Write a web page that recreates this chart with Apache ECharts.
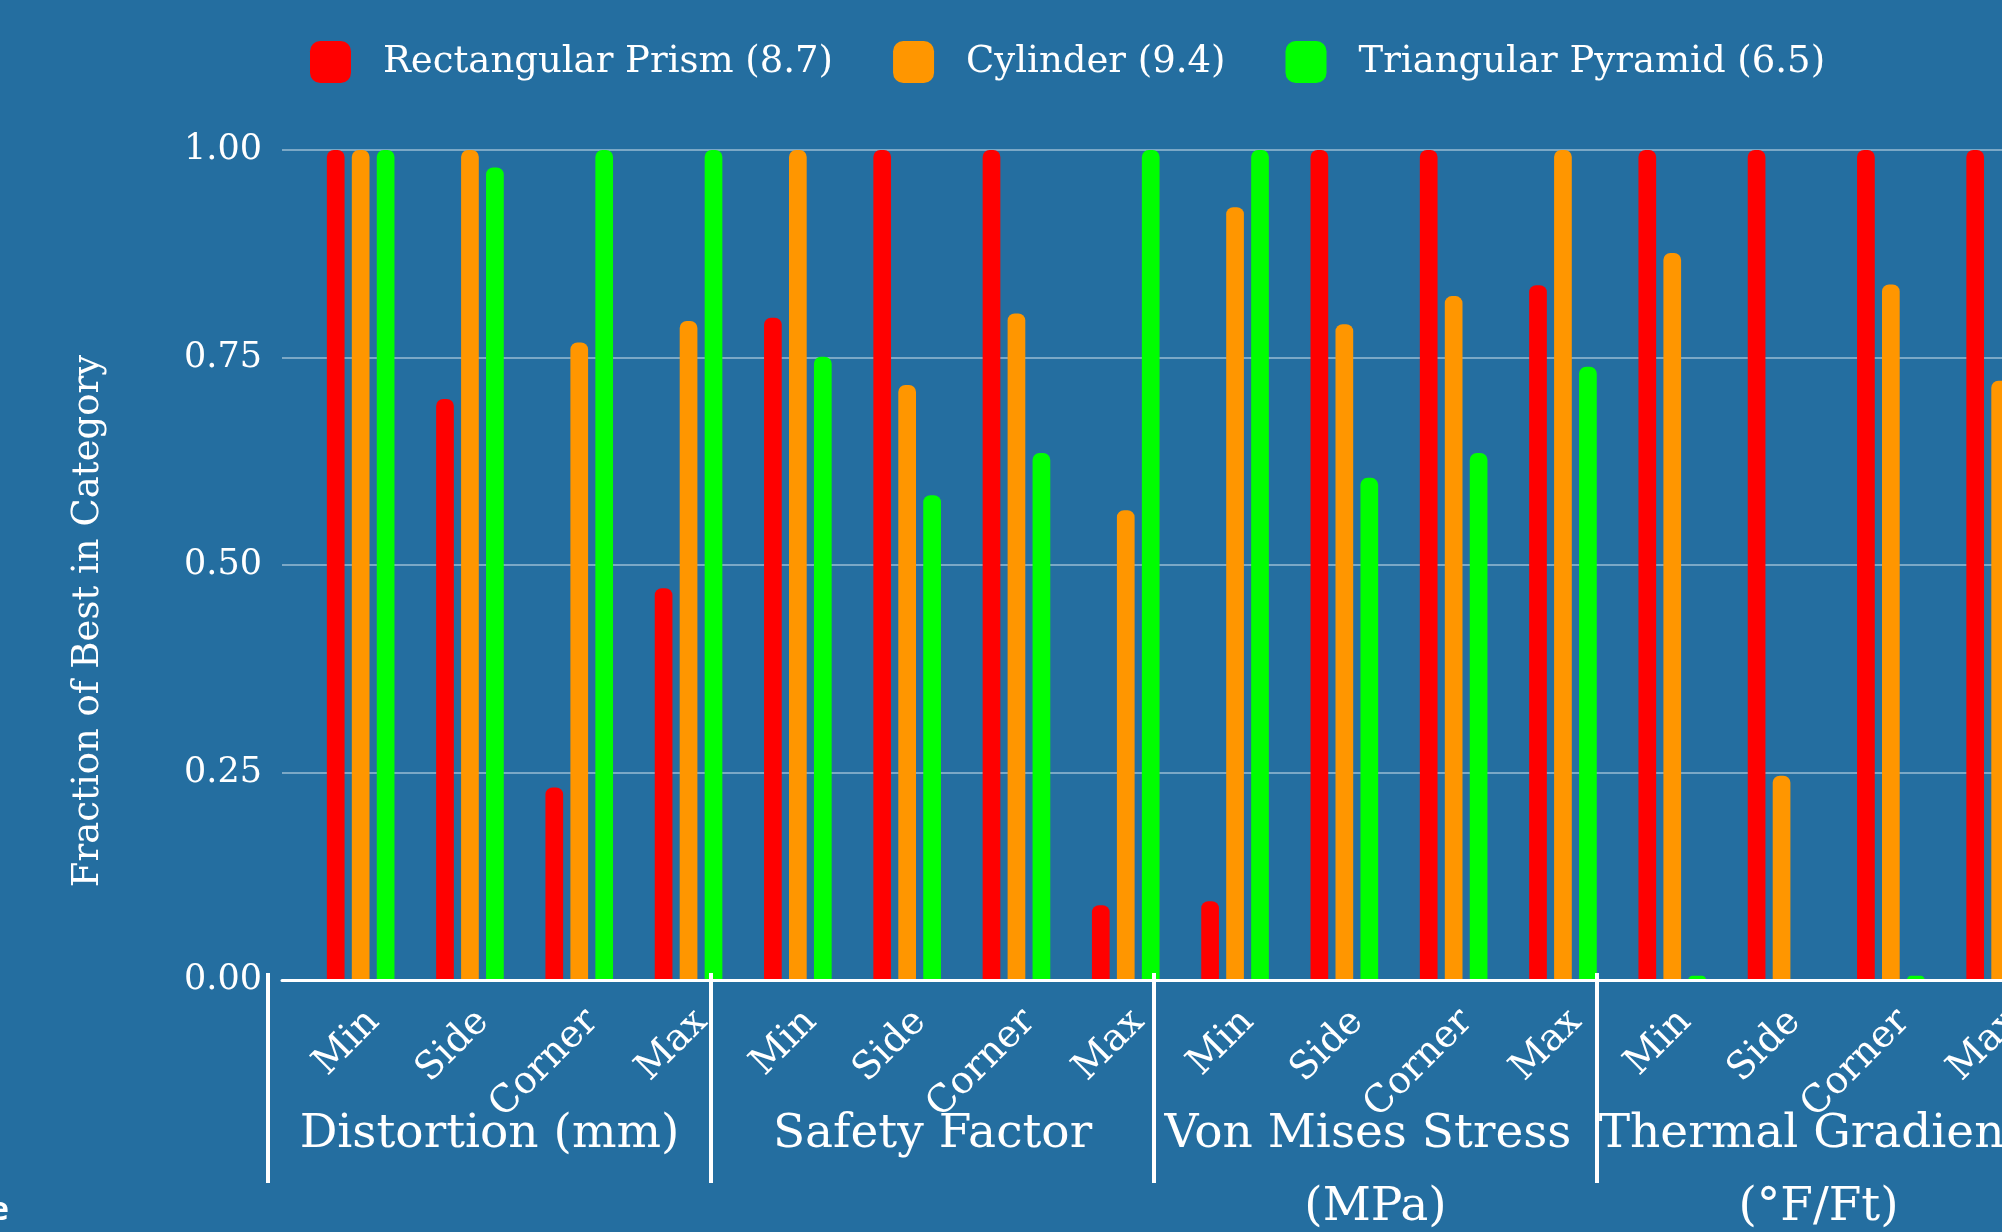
<!DOCTYPE html>
<html><head><meta charset="utf-8">
<script src="https://cdn.jsdelivr.net/npm/echarts@6/dist/echarts.min.js"></script>
<style>html,body{margin:0;padding:0;background:#246EA0;overflow:hidden;width:2002px;height:1232px}#c{width:2400px;height:1232px}</style>
</head><body><div id="c"></div>
<script>
const groups = ['Distortion (mm)', 'Safety Factor', 'Von Mises Stress (MPa)', 'Thermal Gradient (°F/Ft)'];
const positions = ['Min', 'Side', 'Corner', 'Max'];
const seriesNames = ['Rectangular Prism (8.7)', 'Cylinder (9.4)', 'Triangular Pyramid (6.5)'];
const seriesColors = ['#FF0000', '#FF9600', '#00FF00'];
const rectangularPrism = [1.00, 0.700, 0.232, 0.472, 0.798, 1.00, 1.00, 0.090, 0.095, 1.00, 1.00, 0.837, 1.00, 1.00, 1.00, 1.00];
const cylinder = [1.00, 1.00, 0.768, 0.794, 1.00, 0.717, 0.803, 0.566, 0.931, 0.790, 0.824, 1.00, 0.876, 0.246, 0.838, 0.722];
const triangularPyramid = [1.00, 0.979, 1.00, 1.00, 0.751, 0.584, 0.635, 1.00, 1.00, 0.605, 0.635, 0.739, 0.005, 0, 0.005, 0.005];
const yTicks = [0, 0.25, 0.5, 0.75, 1];
const yAxisTitle = 'Fraction of Best in Category';

const categories = groups.flatMap(g => positions.map(p => g + '|' + p));
const FONT = 'DejaVu Serif';
const chart = echarts.init(document.getElementById('c'), null, {renderer: 'canvas'});
const yMin = yTicks[0], yMax = yTicks[yTicks.length - 1], yStep = yTicks[1] - yTicks[0];

const option = {
  animation: false,
  backgroundColor: '#246EA0',
  textStyle: {fontFamily: FONT},
  legend: {
    data: seriesNames, left: 305, top: 36, itemWidth: 41, itemHeight: 42, itemGap: 60,
    icon: 'roundRect', selectedMode: false,
    textStyle: {color: '#fff', fontSize: 37, fontFamily: FONT, padding: [0, 0, 0, 27]}
  },
  grid: [
    {left: 282, top: 150, width: 1900, bottom: 252, outerBoundsMode: 'none'},
    {left: 306, top: 150, width: 1748.8, bottom: 252, outerBoundsMode: 'none'},
    {left: 268, top: 900, width: 1772, bottom: 259, outerBoundsMode: 'none'},
    {left: 319, top: 150, width: 1748.8, bottom: 252, outerBoundsMode: 'none'}
  ],
  xAxis: [
    {gridIndex: 0, type: 'value', min: 0, max: 1,
     axisLine: {show: true, onZero: false, lineStyle: {color: '#fff', width: 3}},
     axisTick: {show: false}, axisLabel: {show: false}, splitLine: {show: false}, z: 6},
    {gridIndex: 1, type: 'category', data: categories, show: false},
    {gridIndex: 2, type: 'category', data: groups, position: 'bottom',
     axisLine: {show: false},
     axisTick: {show: true, interval: 0, length: 210, lineStyle: {color: '#fff', width: 4}},
     axisLabel: {interval: 0, margin: 125, color: '#fff', fontSize: 47, lineHeight: 73, width: 440,
                 overflow: 'break', fontFamily: FONT},
     z: 6},
    {gridIndex: 3, type: 'category', data: categories,
     axisLine: {show: false}, axisTick: {show: false},
     axisLabel: {interval: 0, rotate: 45, margin: 36, color: '#fff', fontSize: 38, fontFamily: FONT,
                 formatter: v => v.split('|')[1]}}
  ],
  yAxis: [
    {gridIndex: 0, type: 'value', min: yMin, max: yMax, interval: yStep,
     axisLine: {show: false}, axisTick: {show: false},
     axisLabel: {margin: 20, color: '#fff', fontSize: 35, fontFamily: FONT, formatter: v => v.toFixed(2)},
     splitLine: {lineStyle: {color: 'rgba(255,255,255,0.4)', width: 2}},
     name: yAxisTitle, nameLocation: 'middle', nameGap: 175,
     nameTextStyle: {color: '#fff', fontSize: 37, fontFamily: FONT, padding: [0, 112, 0, 0]}},
    {gridIndex: 1, type: 'value', min: yMin, max: yMax, show: false},
    {gridIndex: 2, type: 'value', show: false},
    {gridIndex: 3, type: 'value', show: false}
  ],
  graphic: [
    {type: 'text', x: 9, y: 1211, z: 10,
     style: {text: 'e', fill: '#fff', font: 'bold 32px "Open Sans"', align: 'right', verticalAlign: 'middle'}}
  ],
  series: [rectangularPrism, cylinder, triangularPyramid].map((d, i) => ({
    name: seriesNames[i], type: 'bar', xAxisIndex: 1, yAxisIndex: 1, data: d,
    barWidth: 17.7, barGap: '41%',
    itemStyle: {color: seriesColors[i], borderRadius: [7, 7, 0, 0]},
    emphasis: {disabled: true}
  }))
};
chart.setOption(option);
</script></body></html>
